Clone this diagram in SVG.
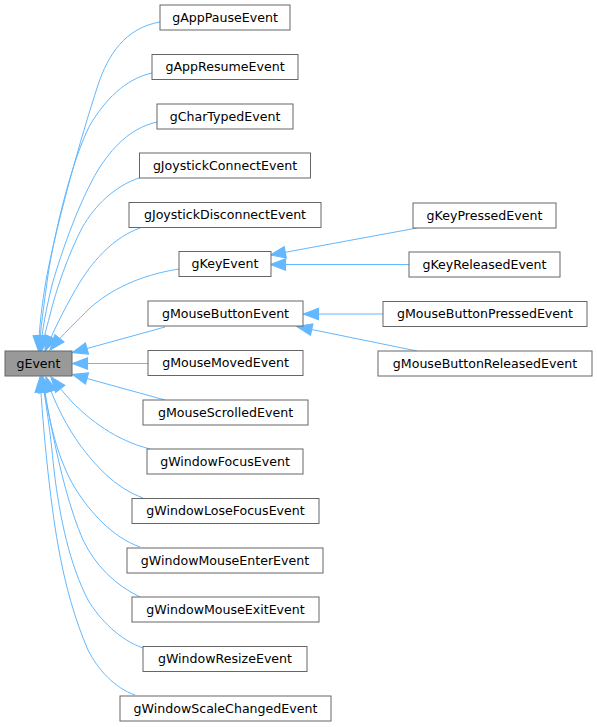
<svg xmlns="http://www.w3.org/2000/svg" width="597" height="727" viewBox="0 0 597 727">
<style>
.n rect{fill:#ffffff;stroke:#666666;stroke-width:1}
.root rect{fill:#999999;stroke:#666666;stroke-width:1}
text{font-family:"DejaVu Sans","Liberation Sans",sans-serif;font-size:12.6px;fill:#000000;text-anchor:middle}
.e path{fill:none;stroke:#63b8ff;stroke-width:1;marker-end:url(#ah)}
</style>
<defs>
<marker id="ah" markerUnits="userSpaceOnUse" markerWidth="15" markerHeight="12" refX="13" refY="5" orient="auto" viewBox="0 0 13 10" overflow="visible">
<path d="M0,0 L13,5 L0,10 Z" fill="#63b8ff" stroke="#63b8ff" stroke-width="1"/>
</marker>
</defs>
<rect width="597" height="727" fill="#ffffff"/>
<g id="connectors" class="e">
<path d="M160,22 C125,28 108,55 98,85 C80,140 58,220 48,270 C42,300 39,330 38.5,351"/>
<path d="M152,73 C125,79 105,100 90,125 C72,160 55,230 48,275 C44,305 40,330 39.5,351"/>
<path d="M157,122 C130,128 112,148 98,170 C80,200 62,250 52,285 C46,310 42,330 40.5,351"/>
<path d="M139,178 C115,186 95,205 82,228 C68,255 56,290 50,315 C46,330 43,340 41.5,351"/>
<path d="M140,228 C115,237 95,258 80,282 C68,302 56,325 45,351"/>
<path d="M179,269 C140,275 110,290 90,308 C78,320 62,335 50,350"/>
<path d="M165,327 L72.5,352.5"/>
<path d="M148,363.5 L72.5,363.5"/>
<path d="M165,400 L72.5,374.5"/>
<path d="M150,449 C115,440 90,420 72,402 C64,393 58,386 51,377"/>
<path d="M143,498 C115,488 95,465 80,445 C68,428 55,405 46,377"/>
<path d="M140,547 C112,537 90,512 75,488 C58,460 48,420 43,377"/>
<path d="M140,597 C115,585 95,565 83,540 C70,510 60,470 52,430 C48,410 45,395 42,377"/>
<path d="M143,648 C120,640 100,620 88,600 C70,565 60,520 54,470 C50,430 46,400 41,377"/>
<path d="M135,695 C115,688 98,670 88,650 C75,620 65,585 58,545 C50,500 43,430 40,377"/>
<path d="M417,228 L270.5,255"/>
<path d="M409,264.5 L270.5,264.5"/>
<path d="M383,314 L303.5,314"/>
<path d="M417,351 L297,326.5"/>
</g>
<g id="gEvent" class="root"><rect x="5" y="351" width="67" height="25"/><text x="38.5" y="367.5">gEvent</text></g>
<g id="gAppPauseEvent" class="n"><rect x="160" y="5" width="130" height="25"/><text x="225" y="21.5">gAppPauseEvent</text></g>
<g id="gAppResumeEvent" class="n"><rect x="152" y="54.5" width="146" height="25"/><text x="225" y="71">gAppResumeEvent</text></g>
<g id="gCharTypedEvent" class="n"><rect x="157" y="104" width="136" height="25"/><text x="225" y="120.5">gCharTypedEvent</text></g>
<g id="gJoystickConnectEvent" class="n"><rect x="139.5" y="153" width="171" height="25"/><text x="225" y="169.5">gJoystickConnectEvent</text></g>
<g id="gJoystickDisconnectEvent" class="n"><rect x="129" y="202.5" width="192" height="25"/><text x="225" y="219">gJoystickDisconnectEvent</text></g>
<g id="gKeyEvent" class="n"><rect x="179" y="251.5" width="92" height="25"/><text x="225" y="268">gKeyEvent</text></g>
<g id="gMouseButtonEvent" class="n"><rect x="148" y="301" width="155" height="25"/><text x="225.5" y="317.5">gMouseButtonEvent</text></g>
<g id="gMouseMovedEvent" class="n"><rect x="148" y="350.5" width="155" height="25"/><text x="225.5" y="367">gMouseMovedEvent</text></g>
<g id="gMouseScrolledEvent" class="n"><rect x="143" y="400" width="165" height="25"/><text x="225.5" y="416.5">gMouseScrolledEvent</text></g>
<g id="gWindowFocusEvent" class="n"><rect x="147" y="449" width="156" height="25"/><text x="225" y="465.5">gWindowFocusEvent</text></g>
<g id="gWindowLoseFocusEvent" class="n"><rect x="132" y="498.5" width="187" height="25"/><text x="225.5" y="515">gWindowLoseFocusEvent</text></g>
<g id="gWindowMouseEnterEvent" class="n"><rect x="127" y="548" width="196" height="25"/><text x="225" y="564.5">gWindowMouseEnterEvent</text></g>
<g id="gWindowMouseExitEvent" class="n"><rect x="132" y="597" width="187" height="25"/><text x="225.5" y="613.5">gWindowMouseExitEvent</text></g>
<g id="gWindowResizeEvent" class="n"><rect x="143" y="646.5" width="164" height="25"/><text x="225" y="663">gWindowResizeEvent</text></g>
<g id="gWindowScaleChangedEvent" class="n"><rect x="120" y="696" width="211" height="25"/><text x="225.5" y="712.5">gWindowScaleChangedEvent</text></g>
<g id="gKeyPressedEvent" class="n"><rect x="413" y="203" width="143" height="25"/><text x="484.5" y="219.5">gKeyPressedEvent</text></g>
<g id="gKeyReleasedEvent" class="n"><rect x="409" y="252" width="151" height="25"/><text x="484.5" y="268.5">gKeyReleasedEvent</text></g>
<g id="gMouseButtonPressedEvent" class="n"><rect x="383" y="301.5" width="204" height="25"/><text x="485" y="318">gMouseButtonPressedEvent</text></g>
<g id="gMouseButtonReleasedEvent" class="n"><rect x="378" y="351" width="214" height="25"/><text x="485" y="367.5">gMouseButtonReleasedEvent</text></g>
</svg>
